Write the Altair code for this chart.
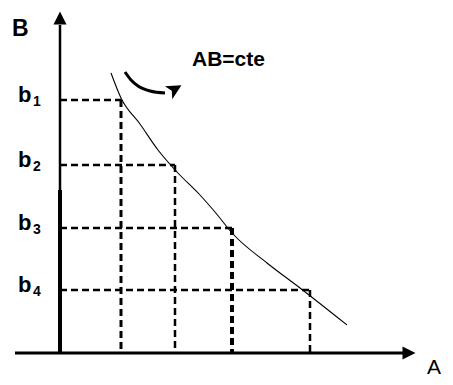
import altair as alt
import pandas as pd

# Values (A and B in drawing units; origin at the axes' crossing)
a_vals = [61, 115, 172, 250]
b_vals = [253, 188, 125, 63]
b_names = ["b", "b", "b", "b"]
b_subs = ["1", "2", "3", "4"]
v_widths = [3, 2.5, 4, 2.5]

curve_A = [51, 61, 80, 98, 117, 140, 155, 173, 207, 240, 287]
curve_B = [280, 255, 229, 203, 181, 158, 141, 119, 90, 65, 28]

arc_A = [65, 71, 78, 90, 105]
arc_B = [281, 273, 267, 262, 260]
arc_head_A = [115]
arc_head_B = [264]

x_axis_A = [-45, 343]
x_axis_B = [0, 0]
x_head_A = [349]
y_axis_top_B = [328, 163]
y_axis_low_B = [163, 0]
y_head_B = [335]

XS = alt.Scale(domain=[-52, 385], nice=False, zero=False)
YS = alt.Scale(domain=[-24, 345], nice=False, zero=False)


def X(f="A"):
    return alt.X(f"{f}:Q", scale=XS, axis=None)


def Y(f="B"):
    return alt.Y(f"{f}:Q", scale=YS, axis=None)


corners = pd.DataFrame({"A": a_vals, "B": b_vals, "name": b_names,
                        "sub": b_subs, "w": v_widths, "zero": [0] * 4})

h_dash = alt.Chart(corners).mark_rule(color="black", strokeDash=[7, 4], strokeWidth=2.5).encode(
    x=alt.X("zero:Q", scale=XS, axis=None), x2="A:Q", y=Y())
v_dash = alt.Chart(corners).mark_rule(color="black", strokeDash=[7, 4]).encode(
    x=X(), y=Y(), y2="zero:Q",
    strokeWidth=alt.StrokeWidth("w:Q", scale=None, legend=None))

curve = alt.Chart(pd.DataFrame({"A": curve_A, "B": curve_B})).mark_line(
    color="black", strokeWidth=1.1, interpolate="monotone").encode(x=X(), y=Y(), order="A:Q")

arc = alt.Chart(pd.DataFrame({"A": arc_A, "B": arc_B})).mark_line(
    color="black", strokeWidth=3, interpolate="monotone").encode(x=X(), y=Y(), order="A:Q")
arc_head = alt.Chart(pd.DataFrame({"A": arc_head_A, "B": arc_head_B})).mark_point(
    shape="M-1,-1 L1,0 L-1,1 L-0.5,0 Z", filled=True, color="black", opacity=1,
    size=220, angle=330).encode(x=X(), y=Y())

x_axis = alt.Chart(pd.DataFrame({"A": x_axis_A, "B": x_axis_B})).mark_line(
    color="black", strokeWidth=3).encode(x=X(), y=Y())
x_head = alt.Chart(pd.DataFrame({"A": x_head_A, "B": [0]})).mark_point(
    shape="M-1,-1 L1,0 L-1,1 Z", filled=True, color="black", opacity=1, size=170).encode(x=X(), y=Y())

y_top = alt.Chart(pd.DataFrame({"A": [0, 0], "B": y_axis_top_B})).mark_line(
    color="black", strokeWidth=2.5).encode(x=X(), y=Y())
y_low = alt.Chart(pd.DataFrame({"A": [0, 0], "B": y_axis_low_B})).mark_line(
    color="black", strokeWidth=4).encode(x=X(), y=Y())
y_head = alt.Chart(pd.DataFrame({"A": [0], "B": y_head_B})).mark_point(
    shape="M-1,1 L0,-1 L1,1 Z", filled=True, color="black", opacity=1, size=170).encode(x=X(), y=Y())

FONT = "Liberation Sans"
b_lbl = alt.Chart(corners).mark_text(font=FONT, fontWeight="bold", fontSize=22, align="left",
                                     baseline="alphabetic", dy=2).encode(
    x=alt.value(10), y=Y(), text="name:N")
b_sub = alt.Chart(corners).mark_text(font=FONT, fontWeight="bold", fontSize=14, align="left",
                                     baseline="alphabetic", dy=6).encode(
    x=alt.value(25), y=Y(), text="sub:N")

ann = pd.DataFrame({"t": ["B", "A", "AB=cte"],
                    "px": [4, 419, 184], "py": [28, 366, 58],
                    "fw": ["bold", "normal", "bold"], "fs": [23, 21, 21]})
texts = []
for _, r in ann.iterrows():
    texts.append(alt.Chart(pd.DataFrame({"t": [r.t]})).mark_text(
        font=FONT, fontWeight=r.fw, fontSize=int(r.fs), align="left", baseline="alphabetic",
        color="black").encode(x=alt.value(int(r.px)), y=alt.value(int(r.py)), text="t:N"))

chart = alt.layer(h_dash, v_dash, curve, arc, arc_head, x_axis, x_head, y_top, y_low, y_head,
                  b_lbl, b_sub, *texts).properties(
    width=437, height=369, padding=0, autosize=alt.AutoSizeParams(type="none"),
    background="white").configure_view(stroke=None)

chart.save("out.html", embed_options={"renderer": "svg", "actions": False})
